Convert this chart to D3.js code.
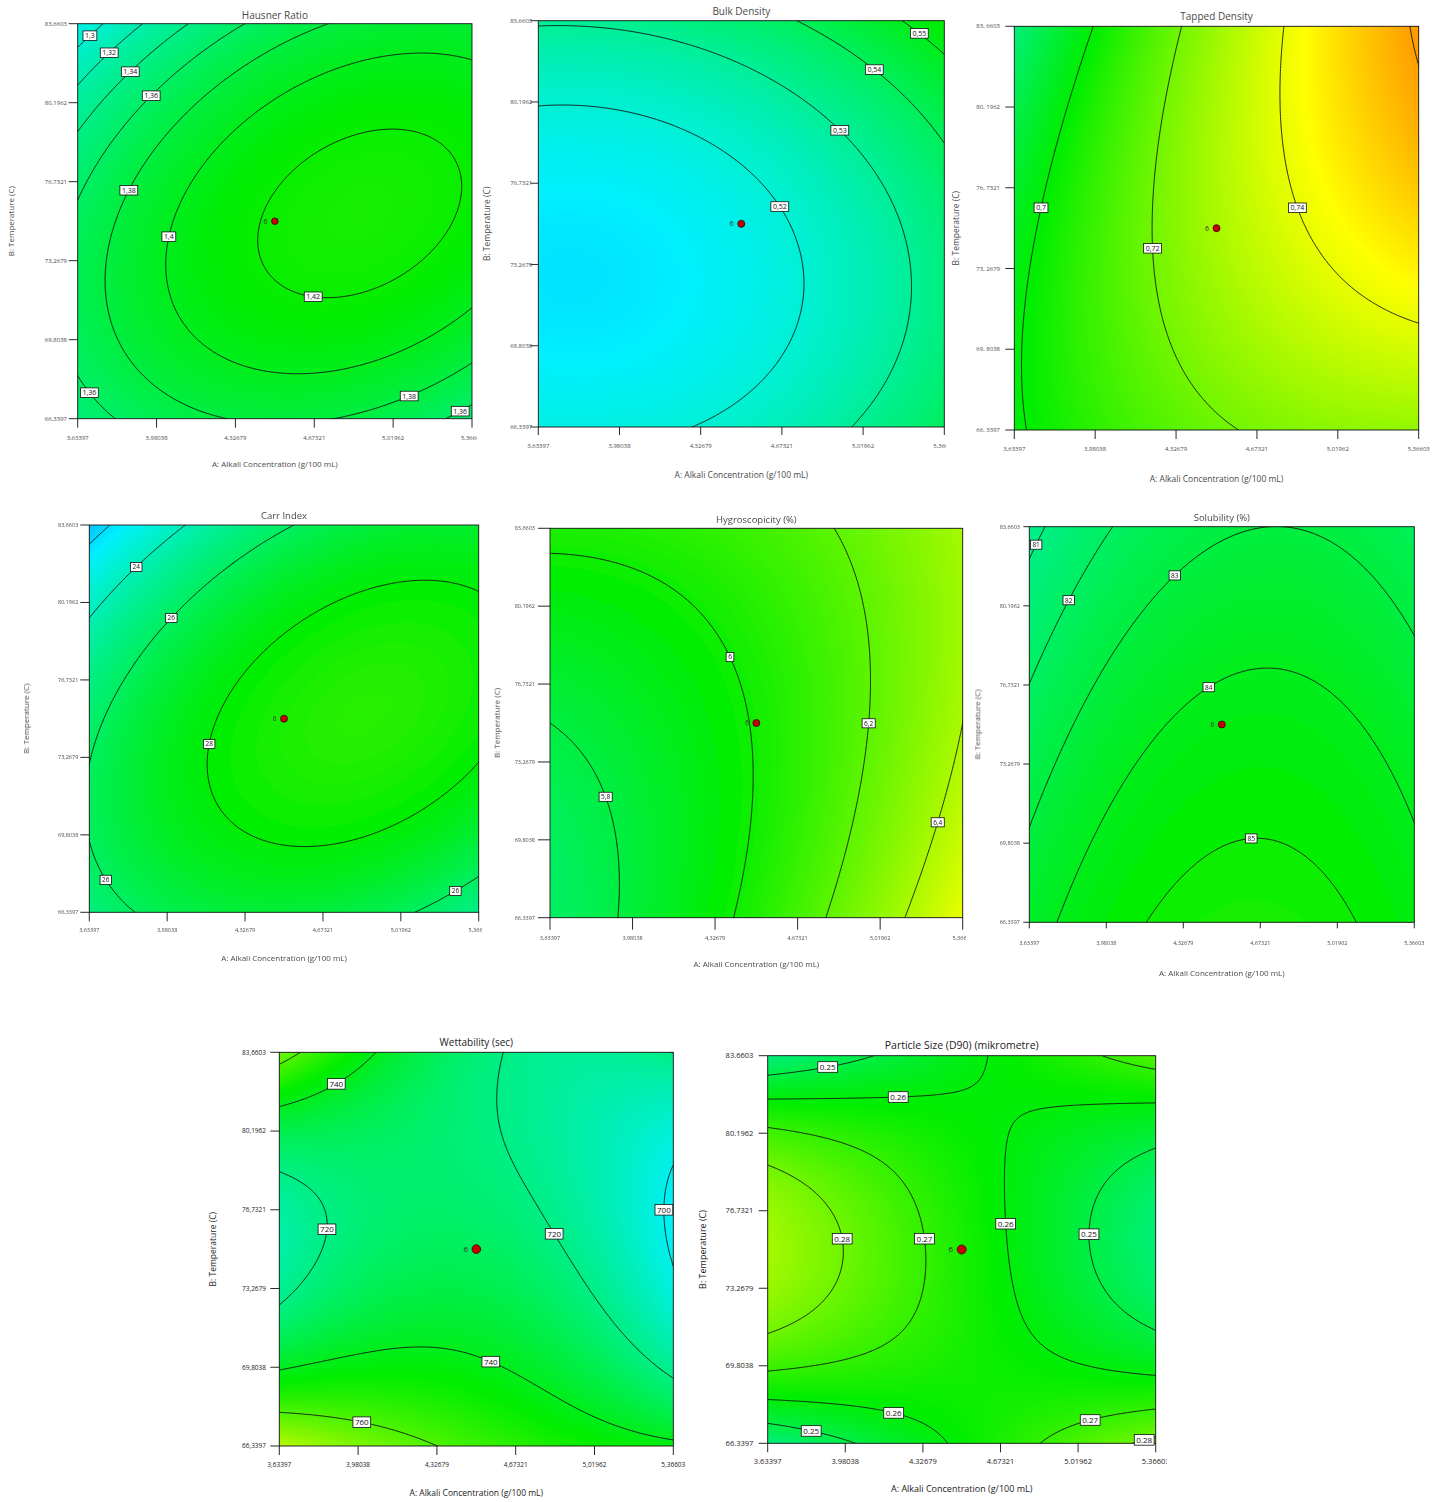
<!DOCTYPE html>
<html>
<head>
<meta charset="utf-8">
<script src="https://cdn.jsdelivr.net/npm/d3@7"></script>
<style>
  body { margin: 0; background: #fff; }
  svg { display: block; }
  text { font-family: "Open Sans", "Noto Sans", sans-serif; }
</style>
</head>
<body>
<svg id="chart" width="1445" height="1502"></svg>
<script>
// ---- Factors ---------------------------------------------------------------
const alkaliLevels = [3.63397, 4.5, 5.36603];      // A: g/100 mL (low, centre, high)
const tempLevels   = [66.3397, 75, 83.6603];       // B: °C (low, centre, high)
const alkaliTicks  = [3.63397, 3.98038, 4.32679, 4.67321, 5.01962, 5.36603];
const tempTicks    = [66.3397, 69.8038, 73.2679, 76.7321, 80.1962, 83.6603];

// ---- Predicted responses on the factor-level grid ----------------------------
// rows: temperature low / centre / high; columns: alkali low / centre / high
const hausnerRatio  = [[1.3487, 1.3823, 1.3523], [1.3639, 1.4221, 1.4167], [1.2857, 1.3685, 1.3877]];
const bulkDensity   = [[0.5182, 0.5222, 0.5396], [0.5122, 0.5169, 0.5350], [0.5308, 0.5362, 0.5550]];
const tappedDensity = [[0.6984, 0.7186, 0.7256], [0.6956, 0.7293, 0.7498], [0.6800, 0.7272, 0.7612]];
const carrIndex     = [[25.35, 26.85, 25.04], [25.66, 28.66, 28.34], [21.37, 25.86, 27.03]];
const hygroscopicity = [[5.709, 6.046, 6.563], [5.800, 6.010, 6.400], [6.039, 6.122, 6.385]];
const solubility    = [[83.57, 85.38, 84.42], [82.30, 84.29, 83.51], [80.72, 82.89, 82.29]];
const wettability   = [[779.9, 756.1, 742.3], [713.3, 727.4, 698.8], [766.7, 722.8, 720.2]];
const particleSize  = [[0.2405, 0.2615, 0.2825], [0.2892, 0.2656, 0.2420], [0.2407, 0.2577, 0.2747]];

// ---- Contour levels ----------------------------------------------------------
const hausnerLevels  = [1.3, 1.32, 1.34, 1.36, 1.38, 1.4, 1.42];
const bulkLevels     = [0.52, 0.53, 0.54, 0.55];
const tappedLevels   = [0.7, 0.72, 0.74, 0.76];
const carrLevels     = [22, 24, 26, 28];
const hygroLevels    = [5.8, 6, 6.2, 6.4];
const solubilityLevels = [81, 82, 83, 84, 85];
const wettLevels     = [700, 720, 740, 760];
const particleLevels = [0.25, 0.26, 0.27, 0.28];

// Design centre point and its replicate count
const centrePoint = [4.5, 75];
const centreReplicates = 6;

// ---- Layout ------------------------------------------------------------------
// spots: [level, a, b] — where each contour label sits, in coded units (-1..1)
const panels = [
  { title: "Hausner Ratio", z: hausnerRatio, levels: hausnerLevels, color: [1.133, 1.698],
    box: [77.7, 23.7, 472, 418.7], titleY: 15, clipRight: 477, sep: ",", ySep: ",", soft: 0,
    off: { yt: 10.7, xt: 19, xl: 45.3, yl: 66.7, tick: 9 }, fs: { title: 10, tick: 6, axis: 8, label: 7 }, dotR: 3.3, ink: "#4a4a4a",
    spots: [[1.3, -0.953, 0.958], [1.32, -0.856, 0.872], [1.34, -0.75, 0.776], [1.36, -0.643, 0.649], [1.38, -0.75, 0.163],
            [1.4, -0.542, -0.08], [1.42, 0.199, -0.354], [1.36, -0.922, -0.855], [1.38, 0.67, -0.86], [1.36, 0.924, -0.94]] },
  { title: "Bulk Density", z: bulkDensity, levels: bulkLevels, color: [0.472, 0.637],
    box: [538.3, 20.7, 944.3, 427], titleY: 11.7, clipRight: 946, sep: ",", ySep: ",", soft: 0,
    off: { yt: 6, xt: 18.7, xl: 48, yl: 51.3, tick: 8 }, fs: { title: 10, tick: 6, axis: 8.5, label: 7 }, dotR: 3.5, ink: "#4a4a4a",
    spots: [[0.55, 0.89, 0.954], [0.54, 0.668, 0.777], [0.53, 0.5, 0.476], [0.52, 0.209, 0.102]] },
  { title: "Tapped Density", z: tappedDensity, levels: tappedLevels, color: [0.6146, 0.787],
    box: [1014.3, 26.3, 1418.7, 430], titleY: 16.7, clipRight: null, sep: ",", ySep: ", ", soft: 0,
    off: { yt: 14.3, xt: 19, xl: 49, yl: 58.3, tick: 9 }, fs: { title: 10, tick: 6, axis: 8.5, label: 7 }, dotR: 3.5, ink: "#4a4a4a",
    spots: [[0.7, -0.868, 0.101], [0.72, -0.316, -0.097], [0.74, 0.421, 0.106]] },
  { title: "Carr Index", z: carrIndex, levels: carrLevels, color: [16.8, 39.4],
    box: [89.3, 525, 478.7, 912.3], titleY: 515.7, clipRight: 482, sep: ",", ySep: ",", soft: 0.55,
    off: { yt: 11, xt: 18, xl: 46, yl: 63.3, tick: 9 }, fs: { title: 9.5, tick: 5.5, axis: 8, label: 6.5 }, dotR: 3.5, ink: "#4a4a4a",
    spots: [[24, -0.774, 0.802], [26, -0.597, 0.532], [28, -0.411, -0.126], [26, -0.911, -0.828], [26, 0.877, -0.88]] },
  { title: "Hygroscopicity (%)", z: hygroscopicity, levels: hygroLevels, color: [4.67, 7.26],
    box: [550, 528.3, 962.7, 917.7], titleY: 519.3, clipRight: 966, sep: ",", ySep: ",", soft: 0.55,
    off: { yt: 15, xt: 20, xl: 46.6, yl: 53.3, tick: 12 }, fs: { title: 9.5, tick: 5.5, axis: 8, label: 6.5 }, dotR: 3.5, ink: "#4a4a4a",
    spots: [[5.8, -0.724, -0.378], [6, -0.16, 0.324], [6.2, 0.523, 0], [6.4, 0.862, -0.507]] },
  { title: "Solubility (%)", z: solubility, levels: solubilityLevels, color: [70.1, 99.5],
    box: [1029.3, 526.7, 1414.3, 922.3], titleY: 517.3, clipRight: null, sep: ",", ySep: ",", soft: 0.55,
    off: { yt: 9.3, xt: 21, xl: 50.4, yl: 52, tick: 6 }, fs: { title: 9.5, tick: 5.5, axis: 8, label: 6.5 }, dotR: 3.5, ink: "#4a4a4a",
    spots: [[81, -0.939, 0.894], [82, -0.777, 0.621], [83, -0.234, 0.744], [84, -0.073, 0.196], [85, 0.155, -0.55]] },
  { title: "Wettability (sec)", z: wettability, levels: wettLevels, color: [648.6, 841.6],
    box: [279.3, 1052.3, 673.3, 1446], titleY: 1042.3, clipRight: null, sep: ",", ySep: ",", soft: 0,
    off: { yt: 13.3, xt: 18.3, xl: 46.7, yl: 66, tick: 9 }, fs: { title: 10, tick: 6.5, axis: 8.5, label: 8 }, dotR: 4.3, ink: "#222",
    spots: [[740, -0.726, 0.859], [720, -0.746, 0.097], [720, 0.396, 0.075], [700, 0.953, 0.199], [740, 0.075, -0.563], [760, -0.579, -0.851]] },
  { title: "Particle Size (D90) (mikrometre)", z: particleSize, levels: particleLevels, color: [0.176, 0.347],
    box: [767.7, 1055.7, 1155.7, 1443.3], titleY: 1045.7, clipRight: 1167, sep: ".", ySep: ".", soft: 0,
    off: { yt: 14.4, xt: 17.7, xl: 46, yl: 65, tick: 9 }, fs: { title: 10.5, tick: 7.5, axis: 9, label: 8 }, dotR: 4.5, ink: "#222",
    spots: [[0.25, -0.699, 0.969], [0.26, -0.325, 0.818], [0.28, -0.613, 0.054], [0.27, -0.188, 0.054], [0.26, 0.234, 0.131],
            [0.25, 0.666, 0.08], [0.26, -0.334, -0.775], [0.25, -0.763, -0.894], [0.27, 0.653, -0.844], [0.28, 0.931, -0.947]] }
];

const alkaliRange = [alkaliTicks[0], alkaliTicks[alkaliTicks.length - 1]];
const tempRange = [tempTicks[0], tempTicks[tempTicks.length - 1]];
const svg = d3.select("#chart");
const defs = svg.append("defs");

// coded factor value: -1 at the low level, +1 at the high level
const coded = (v, lv) => (v - lv[1]) / (lv[2] - lv[1]);

// quadratic response surface through the 3×3 factor-level grid
function makeSurface(grid) {
  const basis = u => [u * (u - 1) / 2, 1 - u * u, u * (u + 1) / 2];
  return (A, T) => {
    const la = basis(coded(A, alkaliLevels)), lb = basis(coded(T, tempLevels));
    let s = 0;
    for (let j = 0; j < 3; j++) for (let i = 0; i < 3; i++) s += lb[j] * la[i] * grid[j][i];
    return s;
  };
}

// blue → cyan → green → yellow → red gradient
const ramp = ["#0000ff", "#00f0ff", "#00ee00", "#ffff00", "#ff0000"];
function colorScale(lo, hi) {
  return d3.scaleLinear()
    .domain(d3.range(5).map(k => lo + (hi - lo) * k / 4))
    .range(ramp).interpolate(d3.interpolateRgb).clamp(true);
}

panels.forEach((p, idx) => drawPanel(p, idx));

function drawPanel(p, idx) {
  const [x0, y0, x1, y1] = p.box;
  const W = x1 - x0, H = y1 - y0;
  const xs = d3.scaleLinear().domain(alkaliRange).range([x0, x1]);
  const ys = d3.scaleLinear().domain(tempRange).range([y1, y0]);
  const f = makeSurface(p.z);
  const [lo, hi] = p.color;
  const cs = colorScale(lo, hi);
  const fmt = (v, sep) => String(v).replace(".", sep);

  const outer = svg.append("g");
  if (p.clipRight) {
    defs.append("clipPath").attr("id", "panel-clip-" + idx)
      .append("rect").attr("x", 0).attr("y", 0).attr("width", p.clipRight).attr("height", 1502);
    outer.attr("clip-path", `url(#panel-clip-${idx})`);
  }
  const g = outer.append("g");
  if (p.soft) {
    defs.append("filter").attr("id", "soft-" + idx)
      .attr("x", "-5%").attr("y", "-5%").attr("width", "110%").attr("height", "110%")
      .append("feGaussianBlur").attr("stdDeviation", p.soft);
    g.attr("filter", `url(#soft-${idx})`);
  }
  defs.append("clipPath").attr("id", "plot-clip-" + idx)
    .append("rect").attr("x", x0).attr("y", y0).attr("width", W).attr("height", H);

  // colour-filled surface
  const iw = Math.round(W), ih = Math.round(H);
  const cv = document.createElement("canvas");
  cv.width = iw; cv.height = ih;
  const ctx = cv.getContext("2d");
  const img = ctx.createImageData(iw, ih);
  const N = 1024;
  const lut = d3.range(N + 1).map(k => d3.rgb(cs(lo + (hi - lo) * k / N)));
  for (let py = 0; py < ih; py++) {
    const T = ys.invert(y0 + (py + 0.5) * H / ih);
    for (let px = 0; px < iw; px++) {
      const A = xs.invert(x0 + (px + 0.5) * W / iw);
      let k = Math.round((f(A, T) - lo) / (hi - lo) * N);
      k = Math.max(0, Math.min(N, k));
      const c = lut[k], o = 4 * (py * iw + px);
      img.data[o] = c.r; img.data[o + 1] = c.g; img.data[o + 2] = c.b; img.data[o + 3] = 255;
    }
  }
  ctx.putImageData(img, 0, 0);
  g.append("image").attr("href", cv.toDataURL())
    .attr("x", x0).attr("y", y0).attr("width", W).attr("height", H)
    .attr("preserveAspectRatio", "none");

  // contour lines (sampled slightly beyond the plot so edges fall outside the clip)
  const step = 1.5;
  const nx = Math.ceil(W / step) + 5, ny = Math.ceil(H / step) + 5;
  const sx = x0 - 2 * step, sy = y0 - 2 * step;
  const vals = new Float64Array(nx * ny);
  for (let j = 0; j < ny; j++) {
    const T = ys.invert(sy + j * step);
    for (let i = 0; i < nx; i++) vals[j * nx + i] = f(xs.invert(sx + i * step), T);
  }
  const bands = d3.contours().size([nx, ny]).thresholds(p.levels)(vals);
  const toPx = (x, y) => [sx + (x - 0.5) * step, sy + (y - 0.5) * step];
  const proj = d3.geoTransform({ point(x, y) { const q = toPx(x, y); this.stream.point(q[0], q[1]); } });
  const path = d3.geoPath(proj);
  g.append("g").attr("clip-path", `url(#plot-clip-${idx})`)
    .selectAll("path").data(bands).join("path")
    .attr("d", path).attr("fill", "none").attr("stroke", "#111").attr("stroke-width", 0.9);

  // frame and ticks
  g.append("rect").attr("x", x0).attr("y", y0).attr("width", W).attr("height", H)
    .attr("fill", "none").attr("stroke", "#111").attr("stroke-width", 0.9);
  const tk = p.off.tick;
  g.append("g").selectAll("line").data(alkaliTicks).join("line")
    .attr("x1", d => xs(d)).attr("x2", d => xs(d)).attr("y1", y1).attr("y2", y1 + tk)
    .attr("stroke", "#111").attr("stroke-width", 0.9);
  g.append("g").selectAll("line").data(tempTicks).join("line")
    .attr("y1", d => ys(d)).attr("y2", d => ys(d)).attr("x1", x0 - tk).attr("x2", x0)
    .attr("stroke", "#111").attr("stroke-width", 0.9);

  // tick labels
  g.append("g").selectAll("text").data(alkaliTicks).join("text")
    .attr("x", d => xs(d)).attr("y", y1 + p.off.xt).attr("dy", "0.35em")
    .attr("text-anchor", "middle").attr("font-size", p.fs.tick).attr("fill", p.ink)
    .text(d => fmt(d, p.sep));
  g.append("g").selectAll("text").data(tempTicks).join("text")
    .attr("x", x0 - p.off.yt).attr("y", d => ys(d)).attr("dy", "0.35em")
    .attr("text-anchor", "end").attr("font-size", p.fs.tick).attr("fill", p.ink)
    .text(d => fmt(d, p.ySep));

  // titles
  const cx = (x0 + x1) / 2, cy = (y0 + y1) / 2;
  g.append("text").attr("x", cx).attr("y", p.titleY).attr("dy", "0.35em")
    .attr("text-anchor", "middle").attr("font-size", p.fs.title).attr("fill", p.ink).text(p.title);
  g.append("text").attr("x", cx).attr("y", y1 + p.off.xl).attr("dy", "0.35em")
    .attr("text-anchor", "middle").attr("font-size", p.fs.axis).attr("fill", p.ink)
    .text("A: Alkali Concentration (g/100 mL)");
  g.append("text").attr("transform", `translate(${x0 - p.off.yl},${cy}) rotate(-90)`).attr("dy", "0.35em")
    .attr("text-anchor", "middle").attr("font-size", p.fs.axis).attr("fill", p.ink)
    .text("B: Temperature (C)");

  // contour labels, snapped onto their line
  const labG = g.append("g");
  p.spots.forEach(([lev, a, b]) => {
    const band = bands.find(c => Math.abs(c.value - lev) < 1e-9);
    if (!band) return;
    const tx = x0 + (a + 1) / 2 * W, ty = y0 + (1 - b) / 2 * H;
    let best = null, bd = Infinity;
    band.coordinates.forEach(poly => poly.forEach(ring => ring.forEach(([u, v]) => {
      const [px, py] = toPx(u, v);
      if (px < x0 + 1 || px > x1 - 1 || py < y0 + 1 || py > y1 - 1) return;
      const d = (px - tx) ** 2 + (py - ty) ** 2;
      if (d < bd) { bd = d; best = [px, py]; }
    })));
    if (!best) best = [tx, ty];
    const lg = labG.append("g").attr("transform", `translate(${best[0]},${best[1]})`);
    const t = lg.append("text").attr("text-anchor", "middle").attr("dy", "0.36em")
      .attr("font-size", p.fs.label).attr("fill", "#111").text(fmt(lev, p.sep));
    const w = t.node().getComputedTextLength();
    lg.insert("rect", "text").attr("x", -w / 2 - 2).attr("y", -p.fs.label / 2 - 1.3)
      .attr("width", w + 4).attr("height", p.fs.label + 2.6)
      .attr("fill", "#fff").attr("stroke", "#111").attr("stroke-width", 0.8);
  });

  // design centre point
  const [ca, ct] = centrePoint;
  g.append("circle").attr("cx", xs(ca)).attr("cy", ys(ct)).attr("r", p.dotR)
    .attr("fill", "#c40000").attr("stroke", "#3a0000").attr("stroke-width", 0.8);
  g.append("text").attr("x", xs(ca) - p.dotR - 4).attr("y", ys(ct)).attr("dy", "0.35em")
    .attr("text-anchor", "end").attr("font-size", p.fs.label).attr("fill", "#333").text(centreReplicates);
}
</script>
</body>
</html>
